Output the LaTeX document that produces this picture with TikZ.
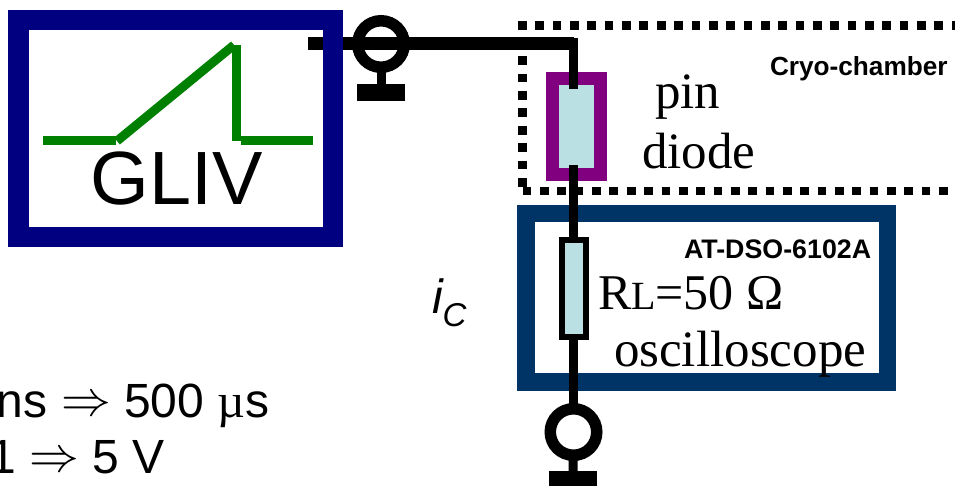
\documentclass[tikz,border=0pt]{standalone}
\usepackage{fontspec}
\setmainfont{Liberation Sans}
\newfontfamily\serifface{Liberation Serif}
\def\px{0.75pt}
\newcommand{\fsz}[1]{\fontsize{\the\dimexpr#1pt*3/4\relax}{\the\dimexpr#1pt*3/4\relax}\selectfont}
\newcommand{\bigarrow}{\raisebox{1.5pt}{\scalebox{1.5}{$\Rightarrow$}}}
\definecolor{gblue}{HTML}{000080}
\definecolor{sblue}{HTML}{003366}
\definecolor{pdiode}{HTML}{800080}
\definecolor{lblue}{HTML}{BBE0E3}
\definecolor{wave}{HTML}{008000}
\tikzset{
  x=\px, y=-\px,
  wire/.style={draw=black,line width=9.5*\px},
  thickwire/.style={draw=black,line width=13*\px},
  stem/.style={draw=black,line width=9*\px},
  connector/.style={circle,draw=black,fill=white,line width=11.5*\px,minimum size=46.5*\px,inner sep=0pt,outer sep=0pt},
  groundbar/.style={fill=black,inner sep=0pt,outer sep=0pt,minimum width=48*\px,minimum height=17*\px},
  framebox/.style={rectangle,inner sep=0pt,outer sep=0pt},
  dotline/.style={draw=black,line width=8.7*\px,dash pattern=on 8.7*\px off 8.65*\px},
  wave line/.style={draw=wave,line width=9*\px},
  lab/.style={inner sep=0pt,outer sep=0pt,anchor=base west,text=black},
  serif lab/.style={lab,font=\serifface},
}
\begin{document}
\begin{tikzpicture}
\useasboundingbox (0,0) rectangle (955,485);
\clip (0,0) rectangle (955,485);
% cryo chamber outline
\coordinate (cA) at (518,25.8);
\coordinate (cB) at (955,25.8);
\coordinate (cC) at (522.5,21.7);
\coordinate (cD) at (522.5,187);
\coordinate (cE) at (522.7,191);
\coordinate (cF) at (955,191);
\draw[dotline] (cA) -- (cB);
\draw[dotline] (cC) -- (cD);
\draw[dotline] (cE) -- (cF);
% oscilloscope frame
\node[framebox,draw=sblue,line width=17.5*\px,fill=white,minimum width=361.5*\px,minimum height=168.5*\px] (scope) at (706.5,297.5) {};
% diode
\node[framebox,draw=pdiode,fill=lblue,line width=13*\px,minimum width=48*\px,minimum height=96*\px] (diode) at (576.5,126.5) {};
% connectors
\node[connector] (c1) at (381,44) {};
\node[connector] (c2) at (573.5,432) {};
\node[groundbar] (g1) at (381,92.5) {};
\node[groundbar] (g2) at (573,479.5) {};
\draw[stem] (c1) -- (g1);
\draw[stem] (c2) -- (g2);
% wires
\coordinate (wS) at (308,44);
\coordinate (wC) at (573.5,44);
\coordinate (dT) at (573.5,89);
\coordinate (dB) at (573.5,165);
\draw[thickwire] (wS) -- (c1.center) -- (wC);
\draw[wire] (573.5,38) -- (dT);
\draw[wire] (dB) -- (c2.north);
% resistor
\node[framebox,draw=black,fill=lblue,line width=6*\px,minimum width=24*\px,minimum height=97*\px] (res) at (574,288.5) {};
% generator frame
\node[framebox,draw=gblue,line width=20.5*\px,minimum width=314.5*\px,minimum height=217*\px] (gliv) at (175.5,128.5) {};
% waveform
\coordinate (p1) at (43,140.5);
\coordinate (p2) at (116,140.5);
\coordinate (p2b) at (117,141);
\coordinate (p3) at (234,45);
\coordinate (p3b) at (236,45);
\coordinate (p4) at (236,141);
\coordinate (p4b) at (240.5,140.5);
\coordinate (p5) at (313,140.5);
\draw[wave line] (p1) -- (p2);
\draw[wave line] (p2b) -- (p3);
\draw[wave line] (p3b) -- (p4);
\draw[wave line] (p4b) -- (p5);
% labels
\node[lab,font=\fsz{75.5}] (tgliv) at (90.5,204.5) {GLIV};
\node[serif lab,font=\serifface\fsz{51}] (tpin) at (655,108) {pin};
\node[serif lab,font=\serifface\fsz{51}] (tdiode) at (642,168) {diode};
\node[lab,font=\bfseries\fsz{26.2}] (tcryo) at (770,75) {Cryo-chamber};
\node[lab,font=\bfseries\fsz{26.8}] (tat) at (684,258) {AT-DSO-6102A};
\node[serif lab,font=\serifface\fsz{50}] (trl) at (598,309) {R{\fsz{40}L}=50 Ω};
\node[serif lab,font=\serifface\fsz{51}] (tosc) at (614,366) {oscilloscope};
\node[lab,font=\itshape\fsz{48}] (ti) at (432,313) {i\raisebox{-9.75pt}{\fsz{33}C}};
\node[lab,font=\fsz{48}] (tns) at (-3,417) {ns \bigarrow{} 500 {\serifface µ}s};
\node[lab,font=\fsz{48}] (tv) at (-11,473) {1 \bigarrow{} 5 V};
\end{tikzpicture}
\end{document}
